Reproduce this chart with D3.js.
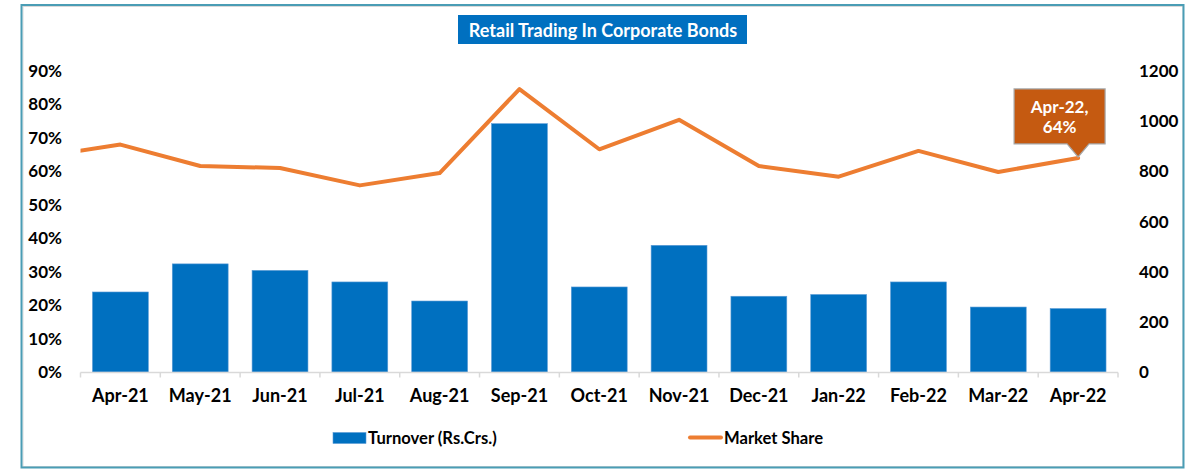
<!DOCTYPE html>
<html>
<head>
<meta charset="utf-8">
<script src="https://cdn.jsdelivr.net/npm/d3@7"></script>
<style>
	body { margin: 0; background: #fff; }
	svg { display: block; font-family: Lato, "Open Sans", sans-serif; }
</style>
</head>
<body>
<svg id="chart" width="1191" height="469"></svg>
<script>
var width = 1191,
	height = 469;

// data
var months = ["Apr-21", "May-21", "Jun-21", "Jul-21", "Aug-21", "Sep-21", "Oct-21",
	"Nov-21", "Dec-21", "Jan-22", "Feb-22", "Mar-22", "Apr-22"];
var turnover = [319, 431, 405, 359, 283, 990, 339, 505, 302, 309, 359, 259, 253];
var marketShare = [0.68, 0.616, 0.61, 0.558, 0.595, 0.846, 0.666, 0.754, 0.616, 0.584, 0.661, 0.598, 0.64];
var prevShare = 0.643; // Mar-21, only the stub at the left edge shows
var leftTicks = [0, 0.1, 0.2, 0.3, 0.4, 0.5, 0.6, 0.7, 0.8, 0.9];
var rightTicks = [0, 200, 400, 600, 800, 1000, 1200];

var svg = d3.select("#chart");

var plotLeft = 80.5, plotRight = 1118, plotTop = 71, plotBottom = 372;

var x = d3.scaleBand()
	.domain(months)
	.range([plotLeft, plotRight])
	.paddingInner(0.3)
	.paddingOuter(0.15);

var yL = d3.scaleLinear().domain([0, 0.9]).range([plotBottom, plotTop]);
var yR = d3.scaleLinear().domain([0, 1200]).range([plotBottom, plotTop]);

// outer frame
svg.append("rect")
	.attr("x", 23).attr("y", 6.5)
	.attr("width", 1160).attr("height", 460)
	.attr("fill", "none")
	.attr("stroke", "#d9d9d9")
	.attr("stroke-width", 1);
svg.append("rect")
	.attr("x", 21.5).attr("y", 5)
	.attr("width", 1162).attr("height", 462.5)
	.attr("fill", "none")
	.attr("stroke", "#4a9db5")
	.attr("stroke-width", 2);

// title
var title = svg.append("g");
title.append("rect")
	.attr("x", 458).attr("y", 15)
	.attr("width", 289).attr("height", 29)
	.attr("fill", "#0070c0");
title.append("text")
	.attr("x", 603).attr("y", 36.5)
	.attr("text-anchor", "middle")
	.attr("fill", "#fff")
	.attr("font-size", 18)
	.attr("font-weight", "bold")
	.text("Retail Trading In Corporate Bonds");

// bars
svg.append("g")
	.selectAll("rect")
	.data(turnover)
	.enter().append("rect")
	.attr("x", function(d, i) { return x(months[i]); })
	.attr("y", function(d) { return yR(d); })
	.attr("width", x.bandwidth())
	.attr("height", function(d) { return plotBottom - yR(d); })
	.attr("fill", "#0070c0")
	.attr("stroke", "#5b9bd5")
	.attr("stroke-width", 0.6);

// x axis
var step = x.step();
var xAxis = svg.append("g")
	.attr("transform", "translate(0," + (plotBottom + 0.5) + ")");
xAxis.append("line")
	.attr("x1", plotLeft).attr("x2", plotRight)
	.attr("stroke", "#d9d9d9").attr("stroke-width", 1.5);
xAxis.selectAll(".tk")
	.data(d3.range(months.length + 1))
	.enter().append("line")
	.attr("class", "tk")
	.attr("x1", function(d) { return plotLeft + d * step; })
	.attr("x2", function(d) { return plotLeft + d * step; })
	.attr("y1", 0).attr("y2", 5)
	.attr("stroke", "#d9d9d9").attr("stroke-width", 1.5);
xAxis.selectAll("text")
	.data(months)
	.enter().append("text")
	.attr("x", function(d) { return x(d) + x.bandwidth() / 2; })
	.attr("y", 29)
	.attr("text-anchor", "middle")
	.attr("font-size", 18)
	.attr("font-weight", "bold")
	.attr("fill", "#000")
	.text(function(d) { return d; });

// left axis labels
svg.append("g")
	.selectAll("text")
	.data(leftTicks)
	.enter().append("text")
	.attr("x", 62)
	.attr("y", function(d) { return yL(d) + 6; })
	.attr("text-anchor", "end")
	.attr("font-size", 17)
	.attr("font-weight", "bold")
	.text(function(d) { return d3.format(".0%")(d); });

// right axis labels
svg.append("g")
	.selectAll("text")
	.data(rightTicks)
	.enter().append("text")
	.attr("x", 1139)
	.attr("y", function(d) { return yR(d) + 6; })
	.attr("text-anchor", "start")
	.attr("font-size", 17)
	.attr("font-weight", "bold")
	.text(function(d) { return d; });

// market share line, with the clipped stub coming in from the month before
svg.append("clipPath")
	.attr("id", "plotclip")
	.append("rect")
	.attr("x", plotLeft).attr("y", 0)
	.attr("width", plotRight - plotLeft).attr("height", height);

var pts = [[x(months[0]) + x.bandwidth() / 2 - step, yL(prevShare)]];
marketShare.forEach(function(d, i) {
	pts.push([x(months[i]) + x.bandwidth() / 2, yL(d)]);
});

svg.append("path")
	.attr("clip-path", "url(#plotclip)")
	.attr("d", d3.line()(pts))
	.attr("fill", "none")
	.attr("stroke", "#ed7d31")
	.attr("stroke-width", 4)
	.attr("stroke-linejoin", "round")
	.attr("stroke-linecap", "round");

// callout on the last point
var last = months.length - 1;
var px = x(months[last]) + x.bandwidth() / 2,
	py = yL(marketShare[last]);
var bx0 = px - 64, bx1 = px + 27, by0 = py - 69, by1 = py - 14;
var callout = svg.append("g");
callout.append("path")
	.attr("d", "M" + bx0 + "," + by0 + "H" + bx1 + "V" + by1 + "H" + (px + 11) +
		"L" + px + "," + (py - 1) + "L" + (px - 11) + "," + by1 + "H" + bx0 + "Z")
	.attr("fill", "#c55a11")
	.attr("stroke", "#a6a6a6")
	.attr("stroke-width", 1.2);
callout.selectAll("text")
	.data([months[last] + ",", d3.format(".0%")(marketShare[last])])
	.enter().append("text")
	.attr("x", (bx0 + bx1) / 2)
	.attr("y", function(d, i) { return by0 + 24 + i * 20; })
	.attr("text-anchor", "middle")
	.attr("fill", "#fff")
	.attr("font-size", 17)
	.attr("font-weight", "bold")
	.text(function(d) { return d; });

// legend
var legend = svg.append("g");
legend.append("rect")
	.attr("x", 333).attr("y", 432.5)
	.attr("width", 33).attr("height", 11)
	.attr("fill", "#0070c0")
	.attr("stroke", "#5b9bd5").attr("stroke-width", 0.6);
legend.append("text")
	.attr("x", 368).attr("y", 444)
	.attr("font-size", 16.6).attr("font-weight", "bold")
	.text("Turnover (Rs.Crs.)");
legend.append("line")
	.attr("x1", 690).attr("x2", 721)
	.attr("y1", 437.5).attr("y2", 437.5)
	.attr("stroke", "#ed7d31").attr("stroke-width", 4)
	.attr("stroke-linecap", "round");
legend.append("text")
	.attr("x", 724).attr("y", 444)
	.attr("font-size", 16.6).attr("font-weight", "bold")
	.text("Market Share");
</script>
</body>
</html>
